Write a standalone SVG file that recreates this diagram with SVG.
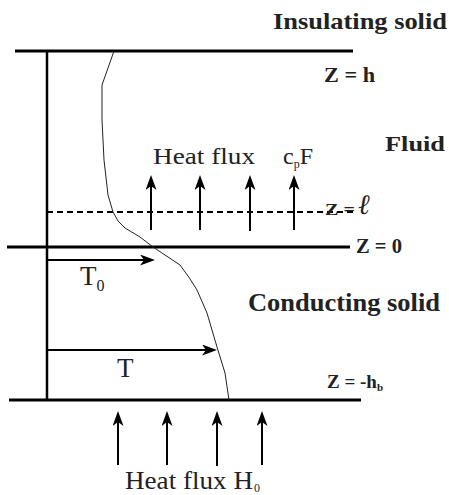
<svg xmlns="http://www.w3.org/2000/svg" width="449" height="495" viewBox="0 0 449 495">
<style>
.wall{stroke:#000;stroke-width:3;fill:none}
.axis{stroke:#000;stroke-width:2.5;fill:none}
.arr{stroke:#000;stroke-width:2;fill:none;marker-end:url(#ah)}
.curve{stroke:#222;stroke-width:1;fill:none;stroke-linejoin:round}
text{font-family:'Liberation Serif','Times New Roman',Tinos,'Nimbus Roman',serif;fill:#222}
.b{font-weight:bold}
</style>
<defs>
<marker id="ah" viewBox="0 0 15 11" refX="9" refY="5.5" markerWidth="15" markerHeight="11" markerUnits="userSpaceOnUse" orient="auto">
<path d="M0,0 L15,5.5 L0,11 L4,5.5 z" fill="#000"/>
</marker>
</defs>
<g id="connectors">
<line class="wall" x1="15" y1="51" x2="353" y2="51"/>
<line class="wall" x1="7" y1="247" x2="350" y2="247"/>
<line class="wall" x1="9" y1="400" x2="361" y2="400"/>
<line class="axis" x1="47" y1="51" x2="47" y2="400"/>
<line x1="47" y1="212" x2="353" y2="212" stroke="#000" stroke-width="2" stroke-dasharray="6,4"/>
<path class="curve" d="M114,51 L102,85 L102,120 L104,160 L108,195 L113,212 Q117,222 125,228 L140,237 L153,247 L165,255 L180,265 Q190,278 197,290 L207,313 L217,347 L225,373 L229,400"/>
<line class="arr" x1="151" y1="230" x2="151" y2="181"/>
<line class="arr" x1="200" y1="230" x2="200" y2="181"/>
<line class="arr" x1="250" y1="231" x2="250" y2="181"/>
<line class="arr" x1="294" y1="230" x2="294" y2="181"/>
<line class="arr" x1="118" y1="465" x2="118" y2="417"/>
<line class="arr" x1="167" y1="465" x2="167" y2="417"/>
<line class="arr" x1="217" y1="466" x2="217" y2="417"/>
<line class="arr" x1="262" y1="465" x2="262" y2="417"/>
<line class="arr" x1="47" y1="260" x2="149" y2="260"/>
<line class="arr" x1="47" y1="350" x2="211" y2="350"/>
</g>
<g id="label-insulating"><text class="b" x="273" y="29" font-size="24" textLength="174" lengthAdjust="spacingAndGlyphs">Insulating solid</text></g>
<g id="label-zh"><text class="b" x="324" y="82" font-size="21" textLength="51" lengthAdjust="spacingAndGlyphs">Z = h</text></g>
<g id="label-fluid"><text class="b" x="385" y="151" font-size="21" textLength="60" lengthAdjust="spacingAndGlyphs">Fluid</text></g>
<g id="label-heatflux"><text x="153" y="164" font-size="24" textLength="102" lengthAdjust="spacingAndGlyphs">Heat flux</text>
<text x="283" y="164" font-size="24">c<tspan font-size="12" dy="4">p</tspan><tspan dy="-4">F</tspan></text></g>
<g id="label-zl"><text class="b" x="325" y="215" font-size="17" textLength="30" lengthAdjust="spacingAndGlyphs">Z = </text><text x="358" y="214" font-size="28" font-style="italic">ℓ</text></g>
<g id="label-z0"><text class="b" x="356" y="253" font-size="20" textLength="46" lengthAdjust="spacingAndGlyphs">Z = 0</text></g>
<g id="label-conducting"><text class="b" x="248" y="311" font-size="25" textLength="192" lengthAdjust="spacingAndGlyphs">Conducting solid</text></g>
<g id="label-t0"><text x="80" y="285" font-size="27">T<tspan font-size="16" dy="6">0</tspan></text></g>
<g id="label-t"><text x="117" y="377" font-size="27">T</text></g>
<g id="label-zhb"><text class="b" x="327" y="388" font-size="19">Z = -h<tspan font-size="11" dy="3">b</tspan></text></g>
<g id="label-heatfluxh0"><text x="125" y="489" font-size="25" textLength="128" lengthAdjust="spacingAndGlyphs">Heat flux H</text><text x="254" y="492" font-size="12">0</text></g>
</svg>
